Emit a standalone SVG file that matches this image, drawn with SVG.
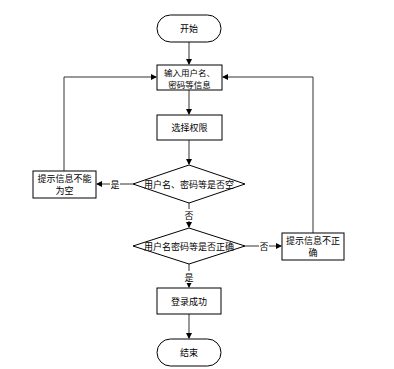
<svg xmlns="http://www.w3.org/2000/svg" width="394" height="369" viewBox="0 0 394 369">
<defs>
<marker id="arr" markerWidth="6" markerHeight="6" refX="5" refY="3" orient="auto" markerUnits="userSpaceOnUse">
<path d="M0,0 L6,3 L0,6 Z" fill="#000"/>
</marker>
<style>
.shape{fill:#fff;stroke:#000;stroke-width:1}
.line{fill:none;stroke:#333;stroke-width:1}
text{font-family:"Noto Sans CJK SC","Liberation Sans",sans-serif;font-size:9px;fill:#000;text-anchor:middle;dominant-baseline:central}
.sm{font-size:8.5px}
</style>
</defs>
<rect width="394" height="369" fill="#fff"/>
<g id="connectors">
<path class="line" d="M189,42 V64" marker-end="url(#arr)"/>
<path class="line" d="M189,90 V114" marker-end="url(#arr)"/>
<path class="line" d="M189,140 V164" marker-end="url(#arr)"/>
<path class="line" d="M133,184 H97" marker-end="url(#arr)"/>
<path class="line" d="M64,171 V77 H156" marker-end="url(#arr)"/>
<path class="line" d="M189,203 V227" marker-end="url(#arr)"/>
<path class="line" d="M245,246 H281" marker-end="url(#arr)"/>
<path class="line" d="M313,233 V77 H223" marker-end="url(#arr)"/>
<path class="line" d="M189,264 V287" marker-end="url(#arr)"/>
<path class="line" d="M189,314 V338" marker-end="url(#arr)"/>
<rect x="110" y="178" width="10" height="12" fill="#fff"/>
<text x="115" y="184">是</text>
<rect x="184" y="209" width="10" height="12" fill="#fff"/>
<text x="189" y="215">否</text>
<rect x="259" y="240" width="10" height="12" fill="#fff"/>
<text x="264" y="246">否</text>
<rect x="184" y="271" width="10" height="12" fill="#fff"/>
<text x="189" y="277">是</text>
</g>
<g id="start">
<rect class="shape" x="157" y="15" width="64" height="27" rx="13.5"/>
<text x="189" y="28.5">开始</text>
</g>
<g id="input">
<rect class="shape" x="157" y="65" width="65" height="25"/>
<text class="sm" x="189.5" y="71.5">输入用户名、</text>
<text class="sm" x="189.5" y="83.5">密码等信息</text>
</g>
<g id="select">
<rect class="shape" x="157" y="115" width="65" height="25"/>
<text x="189.5" y="127.5">选择权限</text>
</g>
<g id="check-empty">
<polygon class="shape" points="189,165 245,184 189,203 133,184"/>
<text x="189" y="184">用户名、密码等是否空</text>
</g>
<g id="empty-msg">
<rect class="shape" x="33" y="171" width="63" height="27"/>
<text x="64.5" y="178.5">提示信息不能</text>
<text x="64.5" y="190.5">为空</text>
</g>
<g id="check-correct">
<polygon class="shape" points="189,228 245,246 189,264 133,246"/>
<text x="189" y="246">用户名密码等是否正确</text>
</g>
<g id="wrong-msg">
<rect class="shape" x="282" y="233" width="62" height="27"/>
<text x="313" y="240.5">提示信息不正</text>
<text x="313" y="252.5">确</text>
</g>
<g id="success">
<rect class="shape" x="157" y="288" width="64" height="26"/>
<text x="189" y="301">登录成功</text>
</g>
<g id="end">
<rect class="shape" x="157" y="339" width="64" height="27" rx="13.5"/>
<text x="189" y="352.5">结束</text>
</g>
</svg>
